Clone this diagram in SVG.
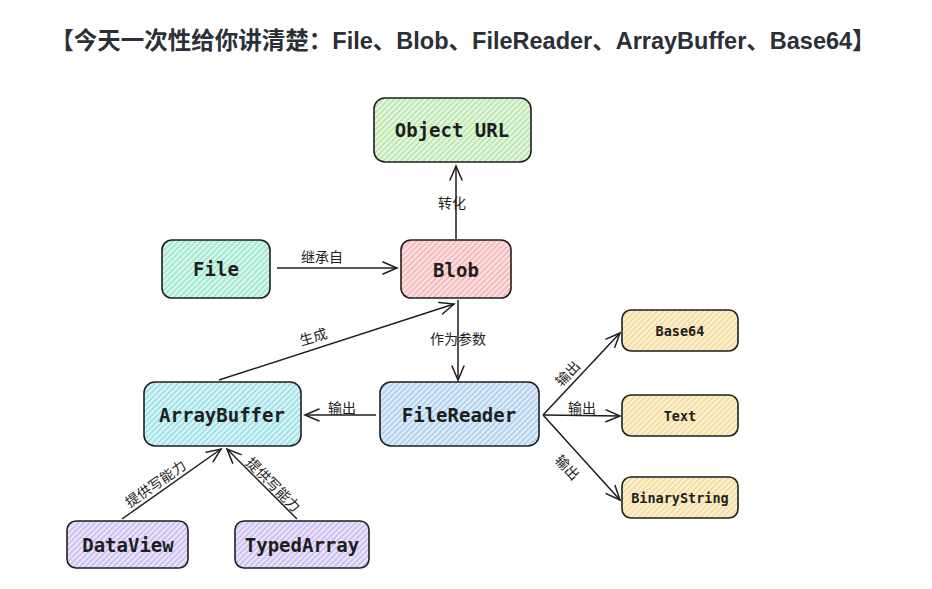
<svg xmlns="http://www.w3.org/2000/svg" width="932" height="589" viewBox="0 0 932 589">
<style>
.node{stroke:#1e1e1e;stroke-width:1.6}
.lbl{font-family:"DejaVu Sans Mono","Liberation Mono",monospace;font-weight:bold;fill:#1e1e1e;text-anchor:middle;dominant-baseline:central}
.big{font-size:19px}
.small{font-size:13.5px}
.el{font-family:"Noto Sans CJK SC","Noto Sans",sans-serif;font-size:14px;fill:#1e1e1e;text-anchor:middle;dominant-baseline:central}
.edge{fill:none;stroke:#1e1e1e;stroke-width:1.5;marker-end:url(#arr)}
</style>
<defs>
<marker id="arr" viewBox="-16 -8 18 16" refX="0" refY="0" markerWidth="18" markerHeight="16" markerUnits="userSpaceOnUse" orient="auto">
<path d="M-14,-6 L0,0 L-14,6" fill="none" stroke="#1e1e1e" stroke-width="1.5" stroke-linecap="round"/>
</marker>
<pattern id="pGreen" patternUnits="userSpaceOnUse" width="4" height="4" patternTransform="rotate(45)"><rect width="4" height="4" fill="#e6f8e3"/><line x1="1" y1="0" x2="1" y2="4" stroke="#a9e39a" stroke-width="1.4"/></pattern>
<pattern id="pTeal" patternUnits="userSpaceOnUse" width="4" height="4" patternTransform="rotate(45)"><rect width="4" height="4" fill="#ddf7ee"/><line x1="1" y1="0" x2="1" y2="4" stroke="#86e3c6" stroke-width="1.4"/></pattern>
<pattern id="pRed" patternUnits="userSpaceOnUse" width="4" height="4" patternTransform="rotate(45)"><rect width="4" height="4" fill="#fbe3e3"/><line x1="1" y1="0" x2="1" y2="4" stroke="#f4a9ab" stroke-width="1.4"/></pattern>
<pattern id="pCyan" patternUnits="userSpaceOnUse" width="4" height="4" patternTransform="rotate(45)"><rect width="4" height="4" fill="#dcf5f7"/><line x1="1" y1="0" x2="1" y2="4" stroke="#87dbe4" stroke-width="1.4"/></pattern>
<pattern id="pBlue" patternUnits="userSpaceOnUse" width="4" height="4" patternTransform="rotate(45)"><rect width="4" height="4" fill="#e1eefa"/><line x1="1" y1="0" x2="1" y2="4" stroke="#9cc8ec" stroke-width="1.4"/></pattern>
<pattern id="pYellow" patternUnits="userSpaceOnUse" width="4" height="4" patternTransform="rotate(45)"><rect width="4" height="4" fill="#fcf2d6"/><line x1="1" y1="0" x2="1" y2="4" stroke="#f2d58a" stroke-width="1.4"/></pattern>
<pattern id="pPurple" patternUnits="userSpaceOnUse" width="4" height="4" patternTransform="rotate(45)"><rect width="4" height="4" fill="#ece6fb"/><line x1="1" y1="0" x2="1" y2="4" stroke="#c1b0f0" stroke-width="1.4"/></pattern>
</defs>
<rect width="932" height="589" fill="#ffffff"/>
<text x="463" y="41" font-family="'Liberation Sans','Noto Sans CJK SC',sans-serif" font-weight="bold" font-size="23.5" fill="#2b2f36" text-anchor="middle" dominant-baseline="central">【今天一次性给你讲清楚：File、Blob、FileReader、ArrayBuffer、Base64】</text>
<g id="connectors">
<path class="edge" d="M456,239 L456,166"/>
<text class="el" x="452" y="202">转化</text>
<path class="edge" d="M277,268 L397,268"/>
<text class="el" x="322" y="256">继承自</text>
<path class="edge" d="M219,380 L454,304"/>
<text class="el" x="313" y="336" transform="rotate(-16 313 336)">生成</text>
<path class="edge" d="M458,300 L458,380"/>
<text class="el" x="458" y="338">作为参数</text>
<path class="edge" d="M376,415 L305,415"/>
<text class="el" x="342" y="407">输出</text>
<path class="edge" d="M543,415 L620,333"/>
<text class="el" x="567" y="373" transform="rotate(-47 567 373)">输出</text>
<path class="edge" d="M543,415 L620,416"/>
<text class="el" x="582" y="407">输出</text>
<path class="edge" d="M543,415 L620,500"/>
<text class="el" x="568" y="467" transform="rotate(47 568 467)">输出</text>
<path class="edge" d="M122,519 L221,449"/>
<text class="el" x="155" y="483" transform="rotate(-35 155 483)">提供写能力</text>
<path class="edge" d="M297,519 L227,449"/>
<text class="el" x="274" y="484" transform="rotate(45 274 484)">提供写能力</text>
</g>
<g id="node-objecturl"><rect class="node" x="374" y="98" width="157" height="64" rx="11" fill="url(#pGreen)"/><text class="lbl big" x="452" y="130">Object URL</text></g>
<g id="node-file"><rect class="node" x="162" y="240" width="108" height="58" rx="10" fill="url(#pTeal)"/><text class="lbl big" x="216" y="269">File</text></g>
<g id="node-blob"><rect class="node" x="401" y="240" width="110" height="58" rx="10" fill="url(#pRed)"/><text class="lbl big" x="456" y="270">Blob</text></g>
<g id="node-arraybuffer"><rect class="node" x="144" y="382" width="157" height="64" rx="11" fill="url(#pCyan)"/><text class="lbl big" x="222" y="415">ArrayBuffer</text></g>
<g id="node-filereader"><rect class="node" x="380" y="382" width="159" height="64" rx="11" fill="url(#pBlue)"/><text class="lbl big" x="459" y="415">FileReader</text></g>
<g id="node-base64"><rect class="node" x="622" y="310" width="116" height="41" rx="9" fill="url(#pYellow)"/><text class="lbl small" x="680" y="331">Base64</text></g>
<g id="node-text"><rect class="node" x="622" y="395" width="116" height="41" rx="9" fill="url(#pYellow)"/><text class="lbl small" x="680" y="416">Text</text></g>
<g id="node-binarystring"><rect class="node" x="622" y="477" width="116" height="41" rx="9" fill="url(#pYellow)"/><text class="lbl small" x="680" y="498">BinaryString</text></g>
<g id="node-dataview"><rect class="node" x="67" y="521" width="121" height="47" rx="9" fill="url(#pPurple)"/><text class="lbl big" x="128" y="545">DataView</text></g>
<g id="node-typedarray"><rect class="node" x="235" y="521" width="134" height="47" rx="9" fill="url(#pPurple)"/><text class="lbl big" x="302" y="545">TypedArray</text></g>
</svg>
